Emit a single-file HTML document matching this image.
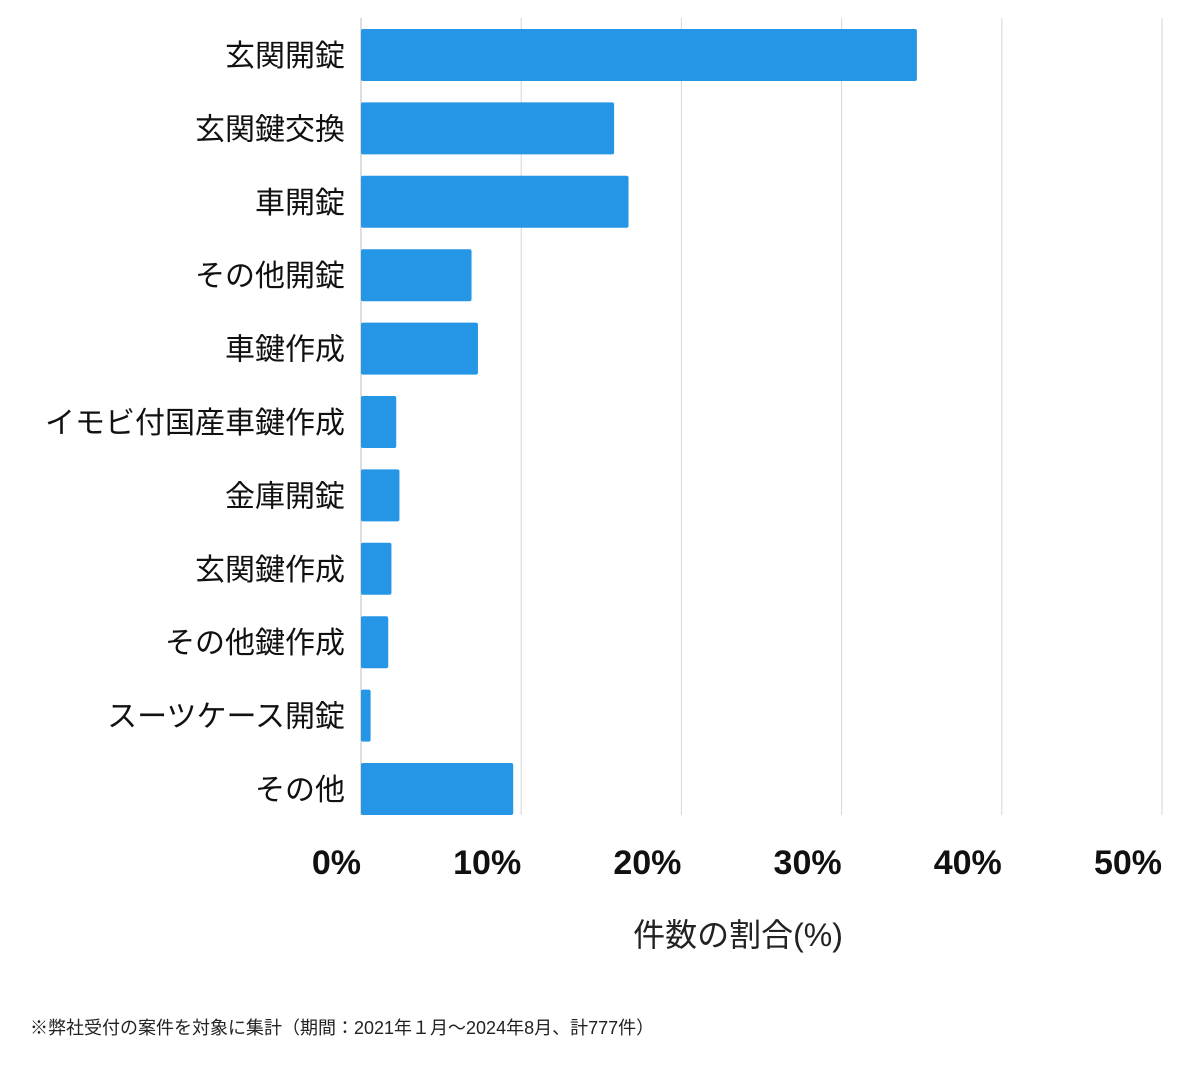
<!DOCTYPE html>
<html><head><meta charset="utf-8"><style>
body{margin:0;background:#fff;width:1200px;height:1069px;overflow:hidden;font-family:"Liberation Sans","Noto Sans CJK JP",sans-serif;}
</style></head><body>
<svg id="chart" width="1200" height="1069" xmlns="http://www.w3.org/2000/svg" style="font-family:'Liberation Sans','Noto Sans CJK JP',sans-serif">
<g id="grid"></g>
<g id="bars"></g>
<g id="ylabels"></g>
<g id="xlabels"></g>
<text x="738" y="946" font-size="32" text-anchor="middle" fill="#222">件数の割合(%)</text>
<text x="30" y="1034" font-size="18" fill="#222">※弊社受付の案件を対象に集計（期間：2021年１月〜2024年8月、計777件）</text>
</svg>
<script>
const categories=["玄関開錠","玄関鍵交換","車開錠","その他開錠","車鍵作成","イモビ付国産車鍵作成","金庫開錠","玄関鍵作成","その他鍵作成","スーツケース開錠","その他"];
const values=[34.7,15.8,16.7,6.9,7.3,2.2,2.4,1.9,1.7,0.6,9.5];
const ticks=[0,10,20,30,40,50];
const tickLabels=["0%","10%","20%","30%","40%","50%"];
const NS="http://www.w3.org/2000/svg";
const x0=361,x1=1162,plotTop=18,band=73.4;
const xs=v=>x0+(v/50)*(x1-x0);
const yb=i=>plotTop+i*band;
function mk(t,a){const e=document.createElementNS(NS,t);for(const k in a)e.setAttribute(k,a[k]);return e;}
const g=document.getElementById('grid'),b=document.getElementById('bars'),yl=document.getElementById('ylabels'),xl=document.getElementById('xlabels');
ticks.forEach((t,i)=>{
 const l=mk('line',{x1:xs(t),x2:xs(t),y1:plotTop,y2:815,stroke:i==0?'#bbb':'#d6d6d6','stroke-width':1});
 
 
 g.appendChild(l);
 const tx=mk('text',{x:xs(t),y:874,'font-size':34,'font-weight':'bold','text-anchor':'end',fill:'#111'});
 tx.textContent=tickLabels[i];
 
 
 xl.appendChild(tx);
});
categories.forEach((c,i)=>{
 const y=yb(i)+11;
 const r=mk('rect',{x:x0,y:y,width:Math.max(0,xs(values[i])-x0),height:52,rx:2,fill:'#2596e6'});
 
 
 b.appendChild(r);
 const tx=mk('text',{x:345,y:y+37,'font-size':30,'text-anchor':'end',fill:'#111'});
 tx.textContent=c;
 
 
 yl.appendChild(tx);
});
</script>
</body></html>
